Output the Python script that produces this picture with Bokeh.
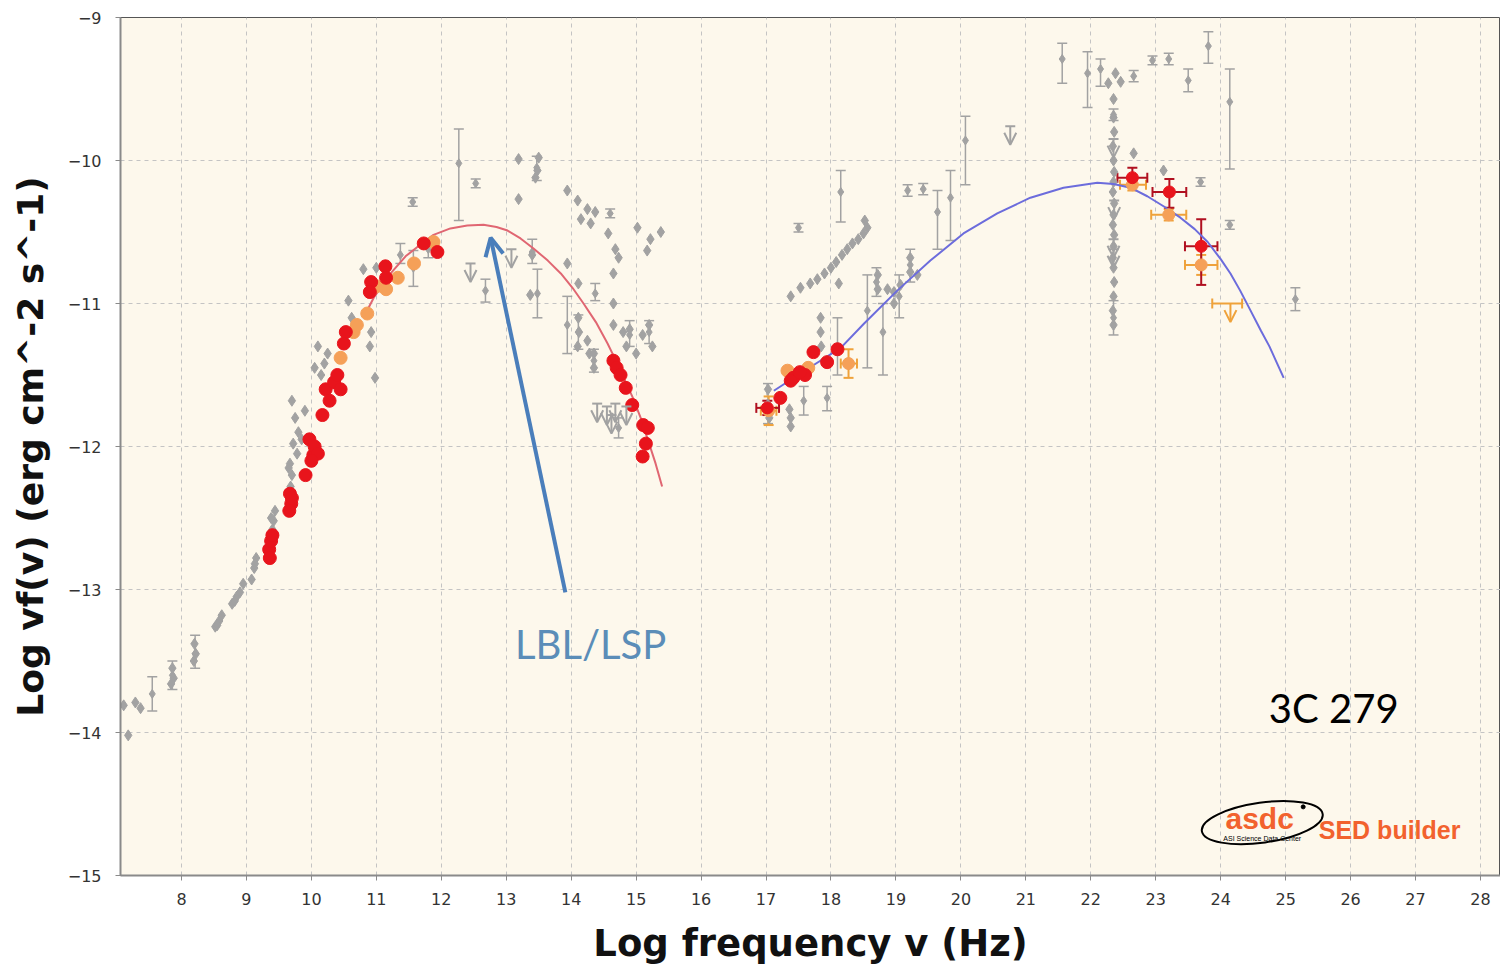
import numpy as np
from bokeh.plotting import figure
from bokeh.models import (ColumnDataSource, Whisker, TeeHead, Arrow, OpenHead,
                          FixedTicker, Label)
from bokeh.core.properties import value
from bokeh.embed import file_html
from bokeh.resources import INLINE

# ---------------- data ----------------
x_ticks = list(range(8, 29))
y_ticks = [-15, -14, -13, -12, -11, -10, -9]

# synchrotron fit curve (red)
sync_x = [10.80, 10.96, 11.20, 11.45, 11.70, 11.88, 12.14, 12.40, 12.65, 12.85, 13.02,
          13.22, 13.42, 13.64, 13.84, 14.02, 14.19, 14.38, 14.56, 14.70, 14.81, 14.95,
          15.07, 15.20, 15.30, 15.40]
sync_y = [-11.10, -10.96, -10.80, -10.67, -10.58, -10.52, -10.475, -10.455, -10.45, -10.465,
          -10.49, -10.545, -10.615, -10.70, -10.79, -10.89, -11.00, -11.13, -11.28, -11.41,
          -11.52, -11.66, -11.80, -11.98, -12.12, -12.28]

# inverse-Compton fit curve (blue)
ic_x = [17.12, 17.63, 18.15, 18.51, 19.02, 19.53, 20.04, 20.56, 21.07, 21.58, 22.10,
        22.35, 22.61, 22.87, 23.12, 23.38, 23.60, 23.80, 24.00, 24.15, 24.30, 24.46,
        24.62, 24.75, 24.87, 24.97]
ic_y = [-11.61, -11.46, -11.31, -11.14, -10.91, -10.70, -10.51, -10.37, -10.26, -10.19,
        -10.155, -10.165, -10.19, -10.25, -10.32, -10.40, -10.48, -10.57, -10.69, -10.79,
        -10.91, -11.05, -11.19, -11.30, -11.42, -11.52]

# archival points (grey diamonds)
gray_x = [7.11, 7.18, 7.29, 7.37, 7.86, 7.88, 7.84, 8.20, 8.22, 8.19, 8.52, 8.58, 8.62, 8.55,
          8.78, 8.85, 8.90, 8.82, 8.95, 9.08, 9.12, 9.15, 9.13, 9.42, 9.44, 9.40, 9.38,
          9.67, 9.70, 9.68, 9.70, 9.75, 9.80, 9.90, 9.85, 9.78, 9.65, 9.72,
          10.10, 10.20, 10.15, 10.25, 10.05, 10.57, 10.62, 10.92, 10.90, 10.98, 10.80, 11.00,
          13.19, 13.50, 13.48, 13.45, 13.19, 13.94, 14.10, 14.25, 14.37, 14.15, 14.30,
          14.57, 15.02, 15.22, 15.38, 15.17, 14.68, 14.73, 14.65, 14.65,
          13.40, 13.37, 13.94, 14.11, 14.11, 14.12, 14.10, 14.25, 14.28, 14.35, 14.35,
          14.65, 14.80, 14.90, 15.10, 15.20, 15.25, 15.00, 14.85,
          17.03, 17.05, 17.38, 17.38, 17.36, 17.84, 17.84, 17.85, 17.38, 17.53, 17.68,
          17.79, 17.90, 18.00, 18.08, 18.17, 18.25, 18.33, 18.42, 18.50, 18.56, 18.52,
          18.12, 18.72, 18.72, 18.87, 18.97, 18.97, 19.07, 19.22, 19.22, 19.33,
          22.27, 22.38, 22.46, 22.35, 22.66, 23.12,
          22.35, 22.36, 22.34, 22.35, 22.36, 22.35, 22.34, 22.36, 22.35, 22.34, 22.36,
          22.35, 22.34, 22.35, 22.36, 22.35, 22.34, 22.35]
gray_y = [-13.81, -14.02, -13.79, -13.83, -13.55, -13.62, -13.66, -13.38, -13.45, -13.50,
          -13.26, -13.22, -13.18, -13.25, -13.10, -13.05, -13.02, -13.08, -12.96, -12.93,
          -12.85, -12.78, -12.82, -12.52, -12.45, -12.58, -12.50,
          -12.12, -12.20, -12.28, -11.68, -11.80, -11.90, -11.75, -11.95, -12.05, -12.15, -11.98,
          -11.30, -11.42, -11.50, -11.35, -11.45, -10.98, -11.10, -11.20, -11.30, -11.52,
          -10.76, -10.75,
          -9.99, -9.98, -10.07, -10.12, -10.27, -10.21, -10.28, -10.34, -10.36, -10.41, -10.44,
          -10.51, -10.47, -10.55, -10.50, -10.63, -10.62, -10.68, -10.79, -11.00,
          -10.66, -10.94, -10.72, -10.86, -11.10, -11.20, -11.30, -11.26, -11.35, -11.35, -11.45,
          -11.15, -11.20, -11.18, -11.22, -11.15, -11.30, -11.35, -11.30,
          -11.60, -11.80, -11.80, -11.86, -11.74, -11.10, -11.20, -11.30, -10.95, -10.89, -10.86,
          -10.83, -10.79, -10.75, -10.71, -10.66, -10.62, -10.58, -10.55, -10.51, -10.47, -10.42,
          -10.86, -10.80, -10.90, -10.90, -10.92, -11.00, -10.87, -10.68, -10.78, -10.80,
          -9.46, -9.39, -9.45, -9.57, -9.95, -10.07,
          -9.70, -9.80, -9.90, -10.00, -10.08, -10.15, -10.22, -10.30, -10.38, -10.45, -10.52,
          -10.60, -10.68, -10.75, -10.85, -10.95, -11.05, -11.15]

# archival points with vertical error bars (grey)
grayerr_x = [7.55, 7.86, 8.21, 11.37, 11.57, 11.80, 11.56, 12.27, 12.53, 12.68, 13.48, 13.47,
             13.40, 14.37, 13.94, 14.11, 14.35, 14.60, 14.90, 15.20, 14.73,
             17.03, 17.58, 17.94, 18.10, 17.50, 18.15, 18.56, 18.80, 18.70, 19.05, 19.22,
             19.18, 19.42, 19.64, 19.84, 20.07,
             21.56, 21.95, 22.15, 22.66, 22.95, 23.20, 23.50, 23.81, 24.14, 23.69, 24.14,
             25.15, 22.35, 22.35]
grayerr_y = [-13.73, -13.60, -13.45, -10.66, -10.75, -10.62, -10.29, -10.02, -10.16, -10.91,
             -10.93, -10.05, -10.64, -10.93, -11.15, -11.20, -11.40, -10.37, -11.22, -11.20,
             -11.87,
             -11.70, -11.68, -11.66, -11.30, -10.47, -10.22, -11.05, -11.20, -10.85, -10.95,
             -10.73, -10.21, -10.20, -10.36, -10.26, -9.86,
             -9.29, -9.39, -9.36, -9.41, -9.30, -9.29, -9.44, -9.20, -9.59, -10.15, -10.45,
             -10.97, -11.10, -9.68]
grayerr_lo = [-13.85, -13.70, -13.55, -10.72, -10.88, -10.68, -10.32, -10.42, -10.19, -10.99,
              -11.10, -10.14, -10.72, -10.98, -11.35, -11.32, -11.48, -10.40, -11.30, -11.28,
              -11.94,
              -11.84, -11.78, -11.75, -11.50, -10.50, -10.43, -11.45, -11.50, -10.95, -11.10,
              -10.85, -10.25, -10.24, -10.62, -10.56, -10.17,
              -9.46, -9.63, -9.48, -9.45, -9.33, -9.33, -9.52, -9.32, -10.06, -10.18, -10.48,
              -11.05, -11.22, -9.72]
grayerr_hi = [-13.61, -13.50, -13.32, -10.58, -10.63, -10.55, -10.26, -9.78, -10.13, -10.83,
              -10.76, -9.97, -10.55, -10.86, -10.95, -11.08, -11.32, -10.34, -11.12, -11.12,
              -11.80,
              -11.56, -11.58, -11.58, -11.10, -10.44, -10.07, -10.80, -11.00, -10.75, -10.80,
              -10.62, -10.17, -10.16, -10.21, -10.07, -9.69,
              -9.18, -9.24, -9.29, -9.37, -9.27, -9.25, -9.36, -9.10, -9.36, -10.12, -10.42,
              -10.89, -10.98, -9.64]

# grey upper limits
grayul_x = [12.45, 13.08, 20.76, 14.40, 14.55, 14.68, 14.85, 14.62, 22.35, 22.35, 22.35, 22.36]
grayul_y = [-10.72, -10.62, -9.76, -11.70, -11.72, -11.70, -11.72, -11.78, -9.85, -10.55,
            -10.62, -10.28]

# simultaneous data (red)
red_x = [9.35, 9.38, 9.36, 9.40, 9.67, 9.69, 9.66, 9.70, 9.91, 10.03, 9.97, 10.05, 10.10,
         10.00, 10.17, 10.22, 10.35, 10.40, 10.28, 10.45, 10.53, 10.50, 10.92, 10.90, 11.14,
         11.15, 11.73, 11.94,
         14.65, 14.70, 14.76, 14.84, 14.94, 15.11, 15.15, 15.10, 15.18,
         17.22, 17.42, 17.38, 17.60, 17.73, 17.94, 18.10, 17.52]
red_y = [-12.72, -12.66, -12.78, -12.62, -12.33, -12.40, -12.45, -12.36, -12.20, -12.06,
         -11.95, -12.00, -12.05, -12.10, -11.78, -11.60, -11.55, -11.50, -11.68, -11.60,
         -11.20, -11.28, -10.85, -10.92, -10.74, -10.82, -10.58, -10.64,
         -11.40, -11.45, -11.50, -11.59, -11.71, -11.85, -11.98, -12.07, -11.87,
         -11.66, -11.52, -11.54, -11.50, -11.34, -11.41, -11.32, -11.48]

# simultaneous data (orange)
orange_x = [10.45, 10.65, 10.86, 11.00, 11.15, 11.33, 11.58, 11.88, 10.70,
            17.33, 17.65]
orange_y = [-11.38, -11.20, -11.07, -10.88, -10.90, -10.82, -10.72, -10.57, -11.15,
            -11.47, -11.45]

# red points with x and y error bars
rederr_x = [17.02, 22.64, 23.21, 23.70]
rederr_y = [-11.73, -10.12, -10.22, -10.60]
rederr_xlo = [16.85, 22.41, 22.95, 23.45]
rederr_xhi = [17.20, 22.87, 23.47, 23.95]
rederr_ylo = [-11.78, -10.18, -10.33, -10.87]
rederr_yhi = [-11.68, -10.05, -10.13, -10.41]

# orange points with x and y error bars
orerr_x = [17.04, 18.27, 22.64, 23.20, 23.70]
orerr_y = [-11.75, -11.42, -10.17, -10.38, -10.73]
orerr_xlo = [16.92, 18.15, 22.45, 22.93, 23.45]
orerr_xhi = [17.16, 18.40, 22.85, 23.47, 23.95]
orerr_ylo = [-11.85, -11.52, -10.21, -10.42, -10.80]
orerr_yhi = [-11.65, -11.32, -10.13, -10.34, -10.66]

# orange upper limit
orul_x = [24.15]
orul_y = [-11.00]
orul_xlo = [23.87]
orul_xhi = [24.33]

# ---------------- styles ----------------
GRAY = "#A2A2A2"
RED = "#E8141C"
DARKRED = "#B01020"
ORANGE = "#F5A058"
ORANGE_ERR = "#EFA23A"
BG = "#FDF8EC"

p = figure(width=1500, height=967, x_range=(7.061, 28.308), y_range=(-15, -9),
           output_backend="svg", toolbar_location=None,
           min_border_left=120, min_border_right=0, min_border_top=17, min_border_bottom=92,
           background_fill_color=BG, border_fill_color="white")

p.outline_line_color = "#555555"
p.outline_line_width = 1

p.xaxis.ticker = FixedTicker(ticks=x_ticks)
p.yaxis.ticker = FixedTicker(ticks=y_ticks)
for g in (p.xgrid, p.ygrid):
    g.grid_line_color = "#C4C4C4"
    g.grid_line_dash = "4 4"
    g.grid_line_width = 1
p.xgrid.ticker = FixedTicker(ticks=x_ticks)
p.ygrid.ticker = FixedTicker(ticks=y_ticks)

for ax in (p.xaxis, p.yaxis):
    ax.axis_line_color = "#8A8A8A"
    ax.axis_line_width = 2
    ax.major_tick_line_color = "#8A8A8A"
    ax.major_tick_out = 5
    ax.major_tick_in = 0
    ax.minor_tick_line_color = None
    ax.major_label_text_color = "#333333"
    ax.major_label_text_font = "DejaVu Sans"
    ax.axis_label_text_font = "DejaVu Sans"
    ax.axis_label_text_font_style = "bold"
    ax.axis_label_text_color = "#111111"

p.xaxis.axis_label = "Log frequency v (Hz)"
p.yaxis.axis_label = "Log vf(v) (erg cm^-2 s^-1)"
p.xaxis.axis_label_text_font_size = "37px"
p.yaxis.axis_label_text_font_size = "36px"
p.xaxis.major_label_text_font_size = "16px"
p.yaxis.major_label_text_font_size = "16px"
p.xaxis.major_label_standoff = 12
p.yaxis.major_label_standoff = 14
p.xaxis.axis_label_standoff = 14
p.yaxis.axis_label_standoff = 14

# grey error bars
gsrc = ColumnDataSource(dict(x=grayerr_x, y=grayerr_y, lo=grayerr_lo, hi=grayerr_hi))
p.add_layout(Whisker(source=gsrc, base="x", lower="lo", upper="hi", dimension="height",
                     line_color=GRAY, line_width=1.5,
                     upper_head=TeeHead(size=10, line_color=GRAY, line_width=1.5),
                     lower_head=TeeHead(size=10, line_color=GRAY, line_width=1.5)))
p.scatter(grayerr_x, grayerr_y, marker="diamond", size=9, color=GRAY)
p.scatter(gray_x, gray_y, marker="diamond", size=11, color=GRAY)

# grey upper limits
ul_end = [v - 0.13 for v in grayul_y]
usrc = ColumnDataSource(dict(x=grayul_x, y=grayul_y, ye=ul_end))
p.add_layout(Arrow(source=usrc, x_start="x", y_start="y", x_end="x", y_end="ye",
                   line_color=GRAY, line_width=2,
                   start=TeeHead(size=10, line_color=GRAY, line_width=2),
                   end=OpenHead(size=12, line_color=GRAY, line_width=2)))

# fit curves
p.line(sync_x, sync_y, line_color="#E06672", line_width=2)
p.line(ic_x, ic_y, line_color="#6C6CDC", line_width=2)

# simultaneous data
p.scatter(orange_x, orange_y, marker="circle", size=13, color=ORANGE)
p.scatter(red_x, red_y, marker="circle", size=13, color=RED)

# orange error-bar points
osrc = ColumnDataSource(dict(x=orerr_x, y=orerr_y, xlo=orerr_xlo, xhi=orerr_xhi,
                             ylo=orerr_ylo, yhi=orerr_yhi))
for dim, base, lo, hi in (("width", "y", "xlo", "xhi"), ("height", "x", "ylo", "yhi")):
    p.add_layout(Whisker(source=osrc, base=base, lower=lo, upper=hi, dimension=dim,
                         line_color=ORANGE_ERR, line_width=2,
                         upper_head=TeeHead(size=10, line_color=ORANGE_ERR, line_width=2),
                         lower_head=TeeHead(size=10, line_color=ORANGE_ERR, line_width=2)))
p.scatter(orerr_x, orerr_y, marker="circle", size=12, color=ORANGE)

# red error-bar points
rsrc = ColumnDataSource(dict(x=rederr_x, y=rederr_y, xlo=rederr_xlo, xhi=rederr_xhi,
                             ylo=rederr_ylo, yhi=rederr_yhi))
for dim, base, lo, hi in (("width", "y", "xlo", "xhi"), ("height", "x", "ylo", "yhi")):
    p.add_layout(Whisker(source=rsrc, base=base, lower=lo, upper=hi, dimension=dim,
                         line_color=DARKRED, line_width=2,
                         upper_head=TeeHead(size=10, line_color=DARKRED, line_width=2),
                         lower_head=TeeHead(size=10, line_color=DARKRED, line_width=2)))
p.scatter(rederr_x, rederr_y, marker="circle", size=12, color=RED)

# orange upper limit
olsrc = ColumnDataSource(dict(y=orul_y, xlo=orul_xlo, xhi=orul_xhi))
p.add_layout(Whisker(source=olsrc, base="y", lower="xlo", upper="xhi", dimension="width",
                     line_color=ORANGE_ERR, line_width=2,
                     upper_head=TeeHead(size=10, line_color=ORANGE_ERR, line_width=2),
                     lower_head=TeeHead(size=10, line_color=ORANGE_ERR, line_width=2)))
oasrc = ColumnDataSource(dict(x=orul_x, y=orul_y, ye=[v - 0.13 for v in orul_y]))
p.add_layout(Arrow(source=oasrc, x_start="x", y_start="y", x_end="x", y_end="ye",
                   line_color=ORANGE_ERR, line_width=2,
                   end=OpenHead(size=12, line_color=ORANGE_ERR, line_width=2)))

# annotation arrow and texts
p.add_layout(Arrow(x_start=13.91, y_start=-13.02, x_end=12.76, y_end=-10.54,
                   line_color="#4A7EBB", line_width=4,
                   end=OpenHead(size=18, line_color="#4A7EBB", line_width=4)))
p.add_layout(Label(x=14.30, y=-13.38, text="LBL/LSP", text_font="Lato", text_font_size="40px",
                   text_color="#5B8DB8", text_align="center", text_baseline="middle"))
p.add_layout(Label(x=25.74, y=-13.83, text="3C 279", text_font="Lato", text_font_size="40px",
                   text_color="black", text_align="center", text_baseline="middle"))

# asdc logo
p.ellipse(x=[24.64], y=[-14.63], width=[122], height=[40], angle=[0.14],
          width_units="screen", height_units="screen",
          fill_alpha=0, line_color="black", line_width=2)
p.scatter(x=[25.27], y=[-14.52], size=4, color="black")
p.add_layout(Label(x=24.60, y=-14.60, text="asdc", text_font="Liberation Sans",
                   text_font_style="bold", text_font_size="30px", text_color="#F2622E",
                   text_align="center", text_baseline="middle"))
p.add_layout(Label(x=24.64, y=-14.74, text="ASI Science Data Center", text_font="Liberation Sans",
                   text_font_size="7px", text_color="black",
                   text_align="center", text_baseline="middle"))
p.add_layout(Label(x=25.51, y=-14.685, text="SED builder", text_font="Liberation Sans",
                   text_font_style="bold", text_font_size="25px", text_color="#F2622E",
                   text_align="left", text_baseline="middle"))

open("out.html", "w").write(file_html(p, INLINE))
